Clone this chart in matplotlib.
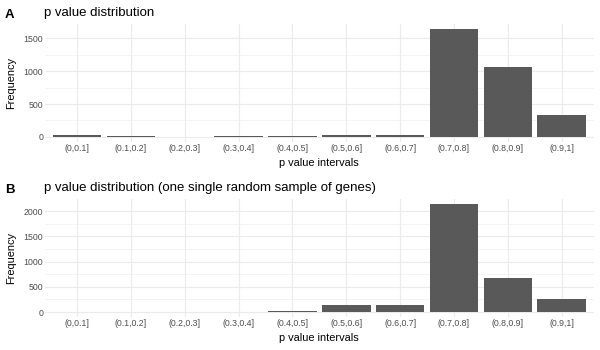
import matplotlib
matplotlib.use("Agg")
import matplotlib.pyplot as plt
from matplotlib.ticker import MultipleLocator

plt.rcParams['font.family'] = ['Liberation Sans', 'DejaVu Sans']

# p value interval counts
intervals = ["(0,0.1]", "(0.1,0.2]", "(0.2,0.3]", "(0.3,0.4]", "(0.4,0.5]",
             "(0.5,0.6]", "(0.6,0.7]", "(0.7,0.8]", "(0.8,0.9]", "(0.9,1]"]
freq_all = [30, 14, 0, 14, 15, 28, 28, 1640, 1062, 330]
freq_sample = [0, 0, 0, 0, 14, 135, 135, 2140, 670, 252]

titles = ["p value distribution",
          "p value distribution (one single random sample of genes)"]
tags = ["A", "B"]
y_majors = [500, 500]

W, H, DPI = 600, 350, 72
fig = plt.figure(figsize=(W / DPI, H / DPI), dpi=DPI)

# panel boxes in pixels: (left, right, top, bottom)
boxes = [(44.7, 594, 23.7, 142.3), (44.7, 594, 198.6, 317.4)]
offsets = [0, 175]

bar_col = "#595959"
grid_col = "#EBEBEB"

for i, freq in enumerate([freq_all, freq_sample]):
    l, r, t, b = boxes[i]
    ax = fig.add_axes([l / W, 1 - b / H, (r - l) / W, (b - t) / H])
    x = range(len(intervals))
    ax.bar(x, freq, width=0.9, color=bar_col, zorder=2)
    ymax = max(freq)
    ax.set_xlim(-0.6, len(intervals) - 0.4)
    ax.set_ylim(-0.05 * ymax, 1.05 * ymax)
    ax.set_xticks(list(x))
    ax.set_xticklabels(intervals)
    ax.yaxis.set_major_locator(MultipleLocator(y_majors[i]))
    ax.yaxis.set_minor_locator(MultipleLocator(y_majors[i] / 2))
    ax.grid(True, which='major', color=grid_col, linewidth=1.1, zorder=0)
    ax.grid(True, which='minor', axis='y', color=grid_col, linewidth=0.55, zorder=0)
    ax.set_axisbelow(True)
    for s in ax.spines.values():
        s.set_visible(False)
    ax.tick_params(which='both', length=0, labelsize=8.8, labelcolor="#4D4D4D")
    ax.tick_params(axis='y', pad=1.5)
    ax.tick_params(axis='x', pad=2)
    ax.set_xlabel("p value intervals", fontsize=11, labelpad=4.5)
    ax.set_ylabel("Frequency", fontsize=11, labelpad=7)

    off = offsets[i]
    fig.text(44 / W, 1 - (off + 16) / H, titles[i], fontsize=13.2, ha='left', va='baseline')
    fig.text(5 / W, 1 - (off + 18) / H, tags[i], fontsize=13.2, fontweight='bold',
             ha='left', va='baseline')

fig.savefig("out.png", dpi=DPI, facecolor="white")
